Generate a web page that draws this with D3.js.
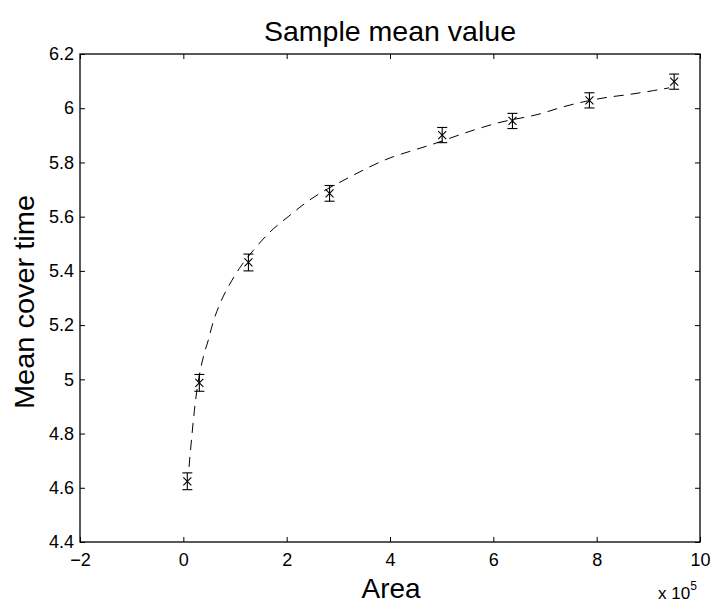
<!DOCTYPE html>
<html><head><meta charset="utf-8">
<script src="https://cdn.jsdelivr.net/npm/d3@7"></script>
<style>body{margin:0;background:#fff}svg{display:block}text{font-family:"Liberation Sans",Arial,sans-serif;fill:#000}</style>
</head><body><svg id="c" width="714" height="603"></svg>
<script>
const areaX = [0.077, 0.31, 1.26, 2.83, 5.01, 6.37, 7.86, 9.50];
const meanY = [4.624, 4.987, 5.431, 5.686, 5.901, 5.953, 6.029, 6.098];
const errY = [0.031, 0.031, 0.031, 0.029, 0.028, 0.028, 0.028, 0.028];
const fitX = [0.11, 0.245, 0.387, 0.484, 0.569, 0.697, 0.89, 1.084, 1.355, 1.68, 2.03, 2.36, 3.23, 4.06, 4.37, 4.79, 5.63, 6.07, 6.92, 7.35, 8.2, 8.6, 9.1, 9.4];
const fitY = [4.677, 4.935, 5.083, 5.145, 5.206, 5.274, 5.348, 5.409, 5.476, 5.544, 5.6, 5.65, 5.747, 5.821, 5.84, 5.865, 5.92, 5.945, 5.98, 6.005, 6.04, 6.05, 6.065, 6.075];
const xTicks = [-2, 0, 2, 4, 6, 8, 10];
const yTicks = [4.4, 4.6, 4.8, 5, 5.2, 5.4, 5.6, 5.8, 6, 6.2];

const L = 80, R = 700, T = 54, B = 542;
const svg = d3.select("#c");
const x = d3.scaleLinear().domain([-2, 10]).range([L, R]);
const y = d3.scaleLinear().domain([4.4, 6.2]).range([B, T]);

// axes
const fmt = d => d < 0 ? "\u2212" + Math.abs(d) : String(d);
const gx = svg.append("g").attr("transform", `translate(0,${B})`)
  .call(d3.axisBottom(x).tickValues(xTicks).tickSize(-5).tickPadding(11).tickFormat(fmt));
const gxt = svg.append("g").attr("transform", `translate(0,${T})`)
  .call(d3.axisTop(x).tickValues(xTicks).tickSize(-5).tickFormat(""));
const gy = svg.append("g").attr("transform", `translate(${L},0)`)
  .call(d3.axisLeft(y).tickValues(yTicks).tickSize(-5).tickPadding(6).tickFormat(d => String(+d.toFixed(1))));
const gyr = svg.append("g").attr("transform", `translate(${R},0)`)
  .call(d3.axisRight(y).tickValues(yTicks).tickSize(-5).tickFormat(""));
[gx, gxt, gy, gyr].forEach(g => {
  g.select(".domain").remove();
  g.selectAll("line").attr("stroke", "#000").attr("stroke-width", 1);
  g.selectAll("text").style("font-size", "18px").attr("fill", "#000");
});
svg.append("rect").attr("x", L).attr("y", T).attr("width", R - L).attr("height", B - T)
  .attr("fill", "none").attr("stroke", "#000").attr("stroke-width", 1.3);

// fit curve
const fit = fitX.map((v, i) => [v, fitY[i]]);
svg.append("path").datum(fit)
  .attr("d", d3.line().x(d => x(d[0])).y(d => y(d[1])).curve(d3.curveMonotoneX))
  .attr("fill", "none").attr("stroke", "#000").attr("stroke-width", 1)
  .attr("stroke-dasharray", "10,7");

// error bars + markers
const pts = areaX.map((v, i) => ({x: v, y: meanY[i], e: errY[i]}));
const g = svg.append("g").attr("stroke", "#000").attr("stroke-width", 1.1).attr("fill", "none");
pts.forEach(p => {
  const cx = x(p.x), y1 = y(p.y + p.e), y0 = y(p.y - p.e), cy = y(p.y);
  g.append("line").attr("x1", cx).attr("x2", cx).attr("y1", y1).attr("y2", y0);
  g.append("line").attr("x1", cx - 5).attr("x2", cx + 5).attr("y1", y1).attr("y2", y1);
  g.append("line").attr("x1", cx - 5).attr("x2", cx + 5).attr("y1", y0).attr("y2", y0);
  g.append("path").attr("d", `M${cx-4},${cy-4}L${cx+4},${cy+4}M${cx-4},${cy+4}L${cx+4},${cy-4}`);
});

// titles
svg.append("text").attr("x", 390).attr("y", 41).attr("text-anchor", "middle")
  .style("font-size", "28px").attr("textLength", 252).attr("lengthAdjust", "spacingAndGlyphs").text("Sample mean value");
svg.append("text").attr("x", 391).attr("y", 598).attr("text-anchor", "middle")
  .style("font-size", "28px").attr("textLength", 59).attr("lengthAdjust", "spacingAndGlyphs").text("Area");
svg.append("text").attr("transform", `translate(34,302) rotate(-90)`).attr("text-anchor", "middle")
  .style("font-size", "28px").attr("textLength", 214).attr("lengthAdjust", "spacingAndGlyphs").text("Mean cover time");
const ex = svg.append("text").attr("x", 658).attr("y", 599).style("font-size", "17px");
ex.append("tspan").text("x 10");
ex.append("tspan").attr("dy", -9).style("font-size", "12px").text("5");
</script></body></html>
